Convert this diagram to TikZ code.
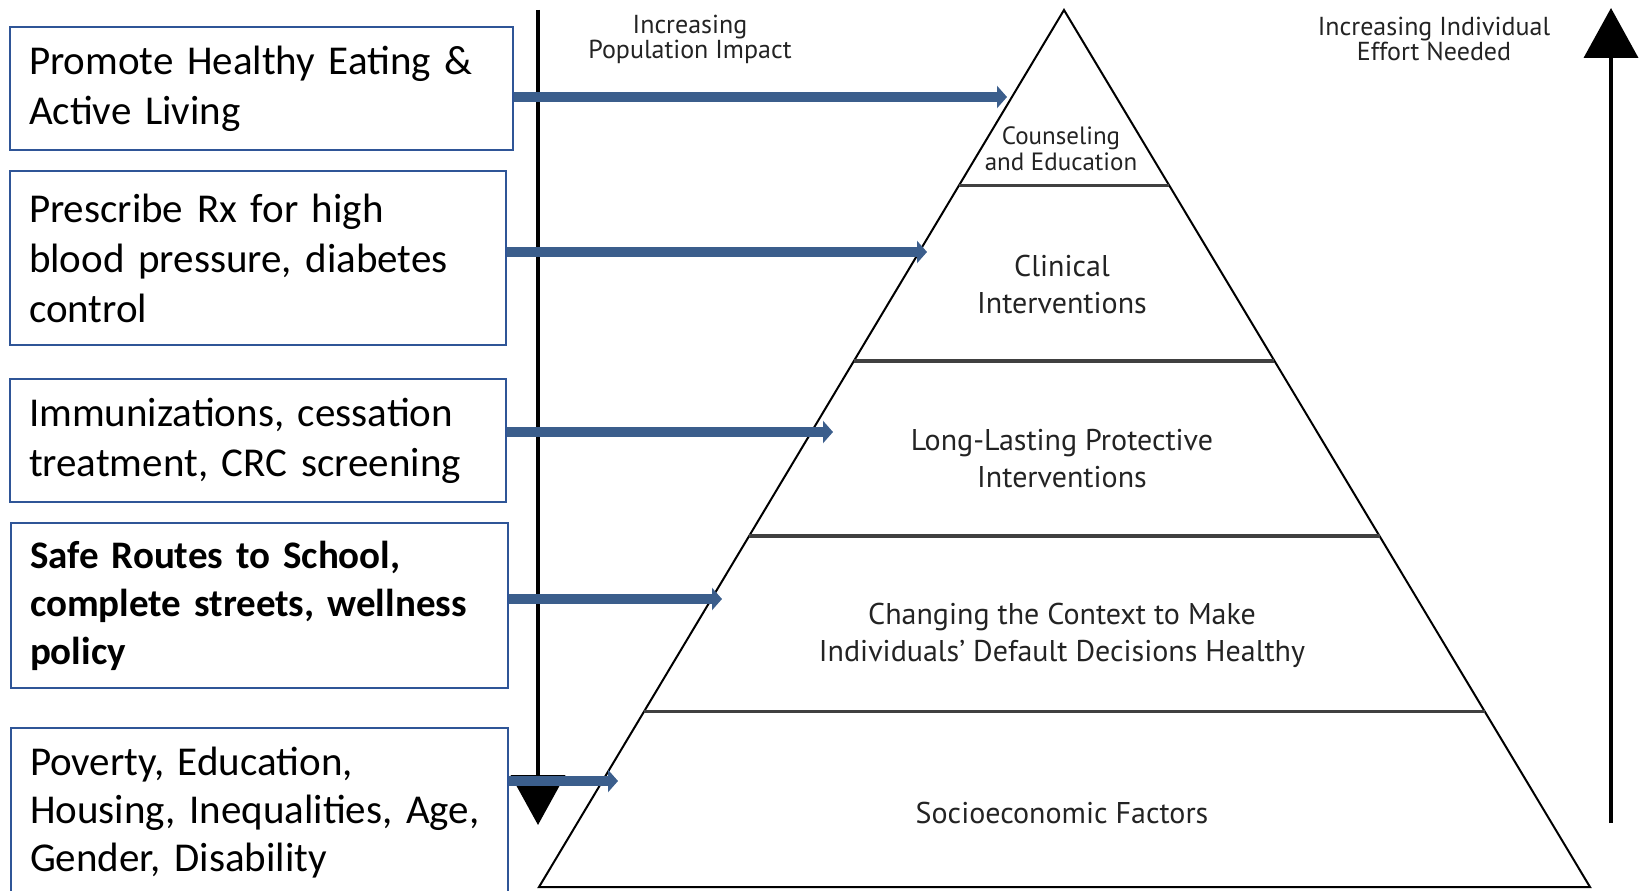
\documentclass[tikz,border=0pt]{standalone}
\usepackage{fontspec}
\setmainfont{Carlito}
\newfontfamily\pyrfont{PT Sans}
\usetikzlibrary{arrows.meta,calc}
\definecolor{boxblue}{RGB}{47,85,151}
\definecolor{arrowblue}{RGB}{59,94,140}
\definecolor{pyrtext}{RGB}{35,35,35}

\begin{document}
\begin{tikzpicture}[x=1pt, y=-1pt,
        actionbox/.style={draw=boxblue, line width=2pt, anchor=north west, align=left,
                inner xsep=19pt, inner ysep=0pt, font=\fontsize{41}{50}\selectfont},
        layer/.style={align=center, text=pyrtext, font=\pyrfont\fontsize{30}{37}\selectfont},
        header/.style={align=center, text=pyrtext, font=\pyrfont\fontsize{26}{25}\selectfont},
        pointer/.style={draw=arrowblue, line width=10pt, -{Triangle[width=22pt,length=10pt]}},
        effort/.style={line width=4pt, -{Triangle[width=54pt,length=50pt]}}]
        \clip (0,0) rectangle (1639,891);
        \coordinate (apex) at (1064,10);
        \coordinate (bl) at (539,887);
        \coordinate (br) at (1590,887);
        \draw[line width=2pt] (apex) -- (bl) -- (br) -- cycle;
        \foreach \f in {0.2,0.4,0.6,0.8}
                \draw[line width=3.5pt, black!75] ($(apex)!\f!(bl)$) -- ($(apex)!\f!(br)$);

        \node[layer, font=\pyrfont\fontsize{25}{26}\selectfont] (counsel) at (1061,149) {Counseling\\and Education};
        \node[layer] (clinical) at (1062,284) {Clinical\\Interventions};
        \node[layer] (protect) at (1062,459) {Long-Lasting Protective\\Interventions};
        \node[layer] (context) at (1062,635) {Changing the Context to Make\\Individuals’ Default Decisions Healthy};
        \node[layer] (socio) at (1062,813) {Socioeconomic Factors};
        \node[header] (popimpact) at (690,39) {Increasing\\Population Impact};
        \node[header] (effortlbl) at (1434,39) {Increasing Individual\\Effort Needed};

        \coordinate (poptop) at (538,10);
        \coordinate (popbot) at (538,825);
        \draw[effort] (poptop) -- (popbot);
        \coordinate (effbot) at (1611,823);
        \coordinate (efftop) at (1611,8);
        \draw[effort] (effbot) -- (efftop);

        \node[actionbox, text width=465pt, minimum height=123pt] (eating) at (9,26)
                {Promote Healthy Eating \&\\Active Living};
        \node[actionbox, text width=458pt, minimum height=174pt] (rx) at (9,170)
                {Prescribe Rx for high\\blood pressure, diabetes\\control};
        \node[actionbox, text width=458pt, minimum height=123pt] (immun) at (9,378)
                {Immunizations, cessation\\treatment, CRC screening};
        \node[actionbox, text width=459pt, minimum height=165pt,
                font=\bfseries\fontsize{39}{48}\selectfont] (routes) at (10,522)
                {Safe Routes to School,\\complete streets, wellness\\policy};
        \node[actionbox, text width=459pt, minimum height=170pt,
                font=\fontsize{41}{48}\selectfont] (poverty) at (10,727)
                {Poverty, Education,\\Housing, Inequalities, Age,\\Gender, Disability};

        \coordinate (t1) at (1007,97);
        \coordinate (t2) at (927,252);
        \coordinate (t3) at (833,432);
        \coordinate (t4) at (722,599);
        \coordinate (t5) at (618,781);
        \draw[pointer] (eating.east |- t1) -- (t1);
        \draw[pointer] (rx.east |- t2) -- (t2);
        \draw[pointer] (immun.east |- t3) -- (t3);
        \draw[pointer] (routes.east |- t4) -- (t4);
        \draw[pointer] (poverty.east |- t5) -- (t5);
\end{tikzpicture}
\end{document}
